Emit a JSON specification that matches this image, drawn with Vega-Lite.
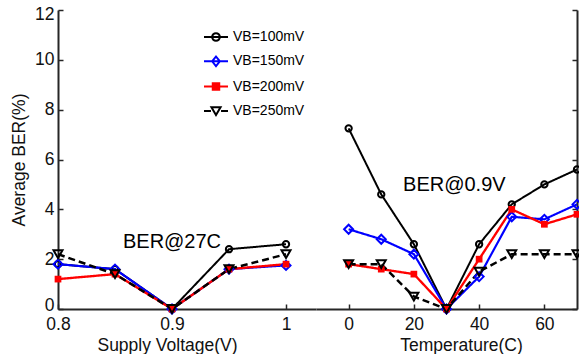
{
  "$schema": "https://vega.github.io/schema/vega-lite/v6.json",
  "padding": {"left": 10, "top": 5, "right": 0, "bottom": 0},
  "spacing": 0,
  "config": {
    "view": {"stroke": null},
    "font": "Liberation Sans",
    "axis": {
      "grid": false,
      "domainColor": "#262626",
      "domainWidth": 2,
      "tickColor": "#262626",
      "tickWidth": 1.5,
      "tickSize": -5,
      "labelPadding": 9,
      "labelFlush": false,
      "labelFont": "Liberation Sans",
      "labelFontSize": 17.5,
      "labelColor": "#111111",
      "titleFont": "Liberation Sans",
      "titleFontSize": 17.5,
      "titleFontWeight": "normal",
      "titleColor": "#111111"
    },
    "axisX": {"labelPadding": 11},
    "axisY": {"labelFlush": true, "labelFlushOffset": 5}
  },
  "datasets": {
    "voltage": [
      {"series": "VB=100mV", "voltage": 0.8, "ber": 1.8},
      {"series": "VB=100mV", "voltage": 0.85, "ber": 1.6},
      {"series": "VB=100mV", "voltage": 0.9, "ber": 0},
      {"series": "VB=100mV", "voltage": 0.95, "ber": 2.4},
      {"series": "VB=100mV", "voltage": 1.0, "ber": 2.6},
      {"series": "VB=150mV", "voltage": 0.8, "ber": 1.8},
      {"series": "VB=150mV", "voltage": 0.85, "ber": 1.6},
      {"series": "VB=150mV", "voltage": 0.9, "ber": 0},
      {"series": "VB=150mV", "voltage": 0.95, "ber": 1.6},
      {"series": "VB=150mV", "voltage": 1.0, "ber": 1.75},
      {"series": "VB=200mV", "voltage": 0.8, "ber": 1.2},
      {"series": "VB=200mV", "voltage": 0.85, "ber": 1.4},
      {"series": "VB=200mV", "voltage": 0.9, "ber": 0},
      {"series": "VB=200mV", "voltage": 0.95, "ber": 1.6},
      {"series": "VB=200mV", "voltage": 1.0, "ber": 1.8},
      {"series": "VB=250mV", "voltage": 0.8, "ber": 2.2},
      {"series": "VB=250mV", "voltage": 0.85, "ber": 1.4},
      {"series": "VB=250mV", "voltage": 0.9, "ber": 0},
      {"series": "VB=250mV", "voltage": 0.95, "ber": 1.6},
      {"series": "VB=250mV", "voltage": 1.0, "ber": 2.2}
    ],
    "temperature": [
      {"series": "VB=100mV", "temperature": 0, "ber": 7.25},
      {"series": "VB=100mV", "temperature": 10, "ber": 4.6},
      {"series": "VB=100mV", "temperature": 20, "ber": 2.6},
      {"series": "VB=100mV", "temperature": 30, "ber": 0},
      {"series": "VB=100mV", "temperature": 40, "ber": 2.6},
      {"series": "VB=100mV", "temperature": 50, "ber": 4.2},
      {"series": "VB=100mV", "temperature": 60, "ber": 5.0},
      {"series": "VB=100mV", "temperature": 70, "ber": 5.6},
      {"series": "VB=150mV", "temperature": 0, "ber": 3.2},
      {"series": "VB=150mV", "temperature": 10, "ber": 2.8},
      {"series": "VB=150mV", "temperature": 20, "ber": 2.2},
      {"series": "VB=150mV", "temperature": 30, "ber": 0},
      {"series": "VB=150mV", "temperature": 40, "ber": 1.3},
      {"series": "VB=150mV", "temperature": 50, "ber": 3.7},
      {"series": "VB=150mV", "temperature": 60, "ber": 3.6},
      {"series": "VB=150mV", "temperature": 70, "ber": 4.2},
      {"series": "VB=200mV", "temperature": 0, "ber": 1.8},
      {"series": "VB=200mV", "temperature": 10, "ber": 1.6},
      {"series": "VB=200mV", "temperature": 20, "ber": 1.4},
      {"series": "VB=200mV", "temperature": 30, "ber": 0},
      {"series": "VB=200mV", "temperature": 40, "ber": 2.0},
      {"series": "VB=200mV", "temperature": 50, "ber": 4.0},
      {"series": "VB=200mV", "temperature": 60, "ber": 3.4},
      {"series": "VB=200mV", "temperature": 70, "ber": 3.8},
      {"series": "VB=250mV", "temperature": 0, "ber": 1.8},
      {"series": "VB=250mV", "temperature": 10, "ber": 1.8},
      {"series": "VB=250mV", "temperature": 20, "ber": 0.5},
      {"series": "VB=250mV", "temperature": 30, "ber": 0},
      {"series": "VB=250mV", "temperature": 40, "ber": 1.5},
      {"series": "VB=250mV", "temperature": 50, "ber": 2.2},
      {"series": "VB=250mV", "temperature": 60, "ber": 2.2},
      {"series": "VB=250mV", "temperature": 70, "ber": 2.2}
    ],
    "notes": [
      {"label": "BER@27C", "voltage": 0.9, "ber": 2.68},
      {"label": "BER@0.9V", "temperature": 32.4, "ber": 4.96}
    ]
  },
  "resolve": {"legend": {"color": "independent", "fill": "independent", "shape": "independent"}},
  "hconcat": [
    {
      "width": 258,
      "height": 299,
      "layer": [
        {
          "data": {"name": "voltage"},
          "mark": {"type": "line"},
          "encoding": {
            "x": {"field": "voltage", "type": "quantitative", "scale": {"domain": [0.8, 1.0263], "nice": false, "zero": false},
                  "axis": {"values": [0.8, 0.9, 1], "format": "~g", "title": "Supply Voltage(V)", "titleX": 109, "titlePadding": 4}},
            "y": {"field": "ber", "type": "quantitative", "scale": {"domain": [0, 12], "nice": false},
                  "axis": {"values": [0, 2, 4, 6, 8, 10, 12], "title": "Average BER(%)", "titlePadding": 6}},
            "color": {"field": "series", "type": "nominal",
                      "scale": {"domain": ["VB=100mV", "VB=150mV", "VB=200mV", "VB=250mV"], "range": ["#000000", "#0000ff", "#ff0000", "#000000"]}},
            "strokeDash": {"field": "series", "type": "nominal",
                           "scale": {"domain": ["VB=100mV", "VB=150mV", "VB=200mV", "VB=250mV"], "range": [[1, 0], [1, 0], [1, 0], [7, 4]]},
                           "legend": null},
            "strokeWidth": {"field": "series", "type": "nominal",
                           "scale": {"domain": ["VB=100mV", "VB=150mV", "VB=200mV", "VB=250mV"], "range": [2, 2.5, 2.5, 2]},
                           "legend": null}
          }
        },
        {
          "data": {"name": "voltage"},
          "transform": [{"filter": "datum.series === 'VB=100mV'"}],
          "mark": {"type": "point", "shape": "circle", "filled": false, "color": "#000000", "strokeWidth": 2, "size": 40, "opacity": 1},
          "encoding": {"x": {"field": "voltage", "type": "quantitative"}, "y": {"field": "ber", "type": "quantitative"}}
        },
        {
          "data": {"name": "voltage"},
          "transform": [{"filter": "datum.series === 'VB=150mV'"}],
          "mark": {"type": "point", "shape": "diamond", "filled": false, "color": "#0000ff", "strokeWidth": 2, "size": 81, "opacity": 1},
          "encoding": {"x": {"field": "voltage", "type": "quantitative"}, "y": {"field": "ber", "type": "quantitative"}}
        },
        {
          "data": {"name": "voltage"},
          "transform": [{"filter": "datum.series === 'VB=200mV'"}],
          "mark": {"type": "point", "shape": "square", "filled": true, "color": "#ff0000", "size": 45, "opacity": 1},
          "encoding": {"x": {"field": "voltage", "type": "quantitative"}, "y": {"field": "ber", "type": "quantitative"}}
        },
        {
          "data": {"name": "voltage"},
          "transform": [{"filter": "datum.series === 'VB=250mV'"}],
          "mark": {"type": "point", "shape": "triangle-down", "filled": false, "color": "#000000", "strokeWidth": 2, "size": 81, "opacity": 1},
          "encoding": {"x": {"field": "voltage", "type": "quantitative"}, "y": {"field": "ber", "type": "quantitative"}}
        },
        {
          "data": {"name": "notes"},
          "transform": [{"filter": "isValid(datum.voltage)"}],
          "mark": {"type": "text", "fontSize": 20, "font": "Liberation Sans", "align": "center", "baseline": "middle", "fill": "#000000"},
          "encoding": {
            "x": {"field": "voltage", "type": "quantitative"},
            "y": {"field": "ber", "type": "quantitative"},
            "text": {"field": "label"}
          }
        },
        {
          "data": {"name": "voltage"},
          "transform": [{"filter": "datum.ber < 0"}],
          "mark": {"type": "point", "filled": false, "strokeWidth": 2},
          "encoding": {
            "x": {"field": "voltage", "type": "quantitative"},
            "y": {"field": "ber", "type": "quantitative"},
            "color": {"field": "series", "type": "nominal",
                      "scale": {"domain": ["VB=100mV", "VB=150mV", "VB=200mV", "VB=250mV"], "range": ["#000000", "#0000ff", "#ff0000", "#000000"]},
                      "legend": {
                        "orient": "none", "legendX": 145, "legendY": 14, "title": null,
                        "symbolSize": 576, "symbolStrokeWidth": 2, "symbolOpacity": 1,
                        "labelFontSize": 14, "labelFont": "Liberation Sans", "labelColor": "#000000",
                        "labelOffset": 4, "rowPadding": 3.3, "padding": 0
                      }},
            "fill": {"field": "series", "type": "nominal",
                     "scale": {"domain": ["VB=100mV", "VB=150mV", "VB=200mV", "VB=250mV"], "range": ["transparent", "transparent", "#ff0000", "transparent"]}},
            "shape": {"field": "series", "type": "nominal",
                      "scale": {"domain": ["VB=100mV", "VB=150mV", "VB=200mV", "VB=250mV"],
                                "range": [
                                  "M-1,0L1,0M0.32,0A0.32,0.32,0,1,1,-0.32,0A0.32,0.32,0,1,1,0.32,0Z",
                                  "M-1,0L1,0M0,-0.4L0.32,0L0,0.4L-0.32,0Z",
                                  "M-1,0L1,0M-0.27,-0.27L0.27,-0.27L0.27,0.27L-0.27,0.27Z",
                                  "M-1,0L-0.42,0M0.42,0L1,0M-0.38,-0.3L0.38,-0.3L0,0.34Z"
                                ]}}
          }
        }
      ]
    },
    {
      "width": 261,
      "height": 299,
      "layer": [
        {
          "data": {"name": "temperature"},
          "mark": {"type": "line"},
          "encoding": {
            "x": {"field": "temperature", "type": "quantitative", "scale": {"domain": [-10, 70], "nice": false, "zero": false},
                  "axis": {"values": [0, 20, 40, 60], "title": "Temperature(C)", "titleX": 145, "titlePadding": 4}},
            "y": {"field": "ber", "type": "quantitative", "scale": {"domain": [0, 12], "nice": false},
                  "axis": {"orient": "right", "values": [0, 2, 4, 6, 8, 10, 12], "labels": false, "title": null}},
            "color": {"field": "series", "type": "nominal",
                      "scale": {"domain": ["VB=100mV", "VB=150mV", "VB=200mV", "VB=250mV"], "range": ["#000000", "#0000ff", "#ff0000", "#000000"]},
                      "legend": null},
            "strokeDash": {"field": "series", "type": "nominal",
                           "scale": {"domain": ["VB=100mV", "VB=150mV", "VB=200mV", "VB=250mV"], "range": [[1, 0], [1, 0], [1, 0], [7, 4]]},
                           "legend": null},
            "strokeWidth": {"field": "series", "type": "nominal",
                           "scale": {"domain": ["VB=100mV", "VB=150mV", "VB=200mV", "VB=250mV"], "range": [2, 2.5, 2.5, 2]},
                           "legend": null}
          }
        },
        {
          "data": {"name": "temperature"},
          "transform": [{"filter": "datum.series === 'VB=100mV'"}],
          "mark": {"type": "point", "shape": "circle", "filled": false, "color": "#000000", "strokeWidth": 2, "size": 40, "opacity": 1},
          "encoding": {"x": {"field": "temperature", "type": "quantitative"}, "y": {"field": "ber", "type": "quantitative"}}
        },
        {
          "data": {"name": "temperature"},
          "transform": [{"filter": "datum.series === 'VB=150mV'"}],
          "mark": {"type": "point", "shape": "diamond", "filled": false, "color": "#0000ff", "strokeWidth": 2, "size": 81, "opacity": 1},
          "encoding": {"x": {"field": "temperature", "type": "quantitative"}, "y": {"field": "ber", "type": "quantitative"}}
        },
        {
          "data": {"name": "temperature"},
          "transform": [{"filter": "datum.series === 'VB=200mV'"}],
          "mark": {"type": "point", "shape": "square", "filled": true, "color": "#ff0000", "size": 45, "opacity": 1},
          "encoding": {"x": {"field": "temperature", "type": "quantitative"}, "y": {"field": "ber", "type": "quantitative"}}
        },
        {
          "data": {"name": "temperature"},
          "transform": [{"filter": "datum.series === 'VB=250mV'"}],
          "mark": {"type": "point", "shape": "triangle-down", "filled": false, "color": "#000000", "strokeWidth": 2, "size": 81, "opacity": 1},
          "encoding": {"x": {"field": "temperature", "type": "quantitative"}, "y": {"field": "ber", "type": "quantitative"}}
        },
        {
          "data": {"name": "notes"},
          "transform": [{"filter": "isValid(datum.temperature)"}],
          "mark": {"type": "text", "fontSize": 20, "font": "Liberation Sans", "align": "center", "baseline": "middle", "fill": "#000000"},
          "encoding": {
            "x": {"field": "temperature", "type": "quantitative"},
            "y": {"field": "ber", "type": "quantitative"},
            "text": {"field": "label"}
          }
        }
      ]
    }
  ]
}
